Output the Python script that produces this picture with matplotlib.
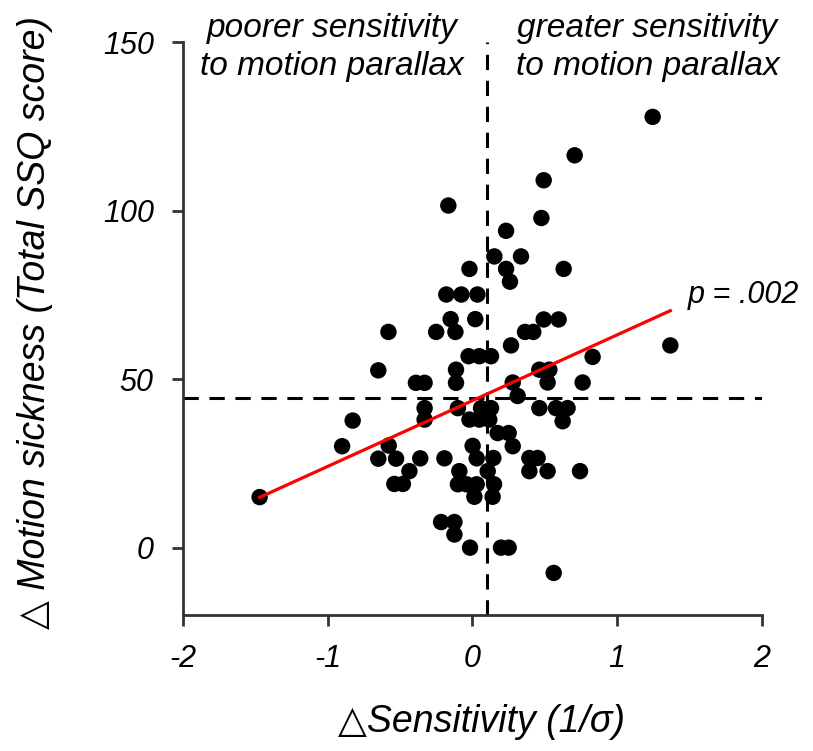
from matplotlib import pyplot as plt
import numpy as np

plt.rcParams['font.family'] = ['Liberation Sans', 'DejaVu Sans']
plt.rcParams['axes.unicode_minus'] = False

# change in sensitivity (1/sigma) and total SSQ score
sens = np.array([
    1.246, 0.707, 0.493, -0.166, 0.477, 0.233, 0.152, 0.336, -0.02, 0.233,
    0.631, 0.26, -0.18, -0.076, 0.035, -0.15, 0.02, 0.493, 0.596, -0.58,
    -0.25, -0.117, 0.364, 0.421, 0.267, 1.368, -0.026, 0.048, 0.129, 0.831,
    -0.65, -0.113, 0.463, 0.532, -0.39, -0.33, -0.113, 0.279, 0.52, 0.762,
    0.313, -0.33, -0.1, 0.06, 0.129, 0.463, 0.578, 0.658, -0.827, -0.33,
    -0.02, 0.048, 0.117, 0.624, 0.175, 0.251, -0.9, -0.578, 0.002, 0.279,
    -0.65, -0.527, -0.36, -0.193, 0.03, 0.145, 0.394, 0.451, -0.435, -0.09,
    0.106, 0.394, 0.52, 0.744, -0.539, -0.48, -0.1, -0.04, 0.03, 0.15,
    -1.47, 0.014, 0.14, -0.216, -0.124, -0.124, -0.016, 0.198, 0.251, 0.562])
ssq = np.array([
    127.8, 116.4, 109.0, 101.5, 97.8, 94.0, 86.4, 86.4, 82.7, 82.7,
    82.7, 78.9, 75.1, 75.1, 75.1, 67.8, 67.8, 67.7, 67.7, 64.0,
    64.0, 64.0, 64.0, 64.0, 60.0, 60.0, 56.8, 56.8, 56.8, 56.6,
    52.6, 52.8, 52.8, 52.8, 48.9, 48.9, 48.9, 49.0, 49.0, 49.0,
    45.0, 41.4, 41.4, 41.4, 41.4, 41.4, 41.4, 41.4, 37.7, 38.0,
    38.0, 38.0, 38.0, 37.5, 34.0, 34.0, 30.1, 30.3, 30.2, 30.1,
    26.4, 26.4, 26.5, 26.5, 26.5, 26.6, 26.6, 26.6, 22.7, 22.7,
    22.7, 22.7, 22.7, 22.7, 18.9, 18.9, 18.8, 18.8, 18.8, 18.8,
    15.0, 15.1, 15.1, 7.6, 7.6, 3.9, 0.0, 0.0, 0.0, -7.5])

sens_median = 0.1
ssq_median = 44.5

fig = plt.figure(figsize=(8.13, 7.51), dpi=100)
ax = fig.add_axes([0.225, 0.181, 0.712, 0.763])

dash = (0, (5, 3.5))
ax.axvline(sens_median, color='black', lw=2.2, ls=dash, zorder=1)
ax.axhline(ssq_median, color='black', lw=2.2, ls=dash, zorder=1)

ax.scatter(sens, ssq, s=140, color='black', edgecolors='none', zorder=2,
           clip_on=False)

# least squares fit over the data range
m, b = np.polyfit(sens, ssq, 1)
xf = np.array([sens.min(), sens.max()])
ax.plot(xf, m * xf + b, color='red', lw=2.3, zorder=3)

ax.set_xlim(-2, 2)
ax.set_ylim(-20, 150)
ax.set_xticks([-2, -1, 0, 1, 2])
ax.set_yticks([0, 50, 100, 150])
for s in ['top', 'right']:
    ax.spines[s].set_visible(False)
for s in ['left', 'bottom']:
    ax.spines[s].set_linewidth(2)
    ax.spines[s].set_color('#333333')
ax.tick_params(direction='out', length=8, width=2, color='#333333',
               labelsize=22, pad=13)
for lab in ax.get_xticklabels() + ax.get_yticklabels():
    lab.set_style('italic')

ax.set_xlabel('\u25b3Sensitivity (1/\u03c3)', fontsize=27, style='italic',
              va='center')
ax.xaxis.set_label_coords(0.516, -0.187)
ax.set_ylabel('\u25b3 Motion sickness (Total SSQ score)', fontsize=27,
              style='italic', va='center')
ax.yaxis.set_label_coords(-0.256, 0.511)

ax.text(-0.97, 148.5, 'poorer sensitivity\nto motion parallax', fontsize=24,
        style='italic', ha='center', va='center', linespacing=1.3)
ax.text(1.21, 148.5, 'greater sensitivity\nto motion parallax', fontsize=24,
        style='italic', ha='center', va='center', linespacing=1.3)
ax.text(1.49, 75, 'p = .002', fontsize=22, style='italic', ha='left',
        va='center')

plt.savefig('out.png', dpi=100)
